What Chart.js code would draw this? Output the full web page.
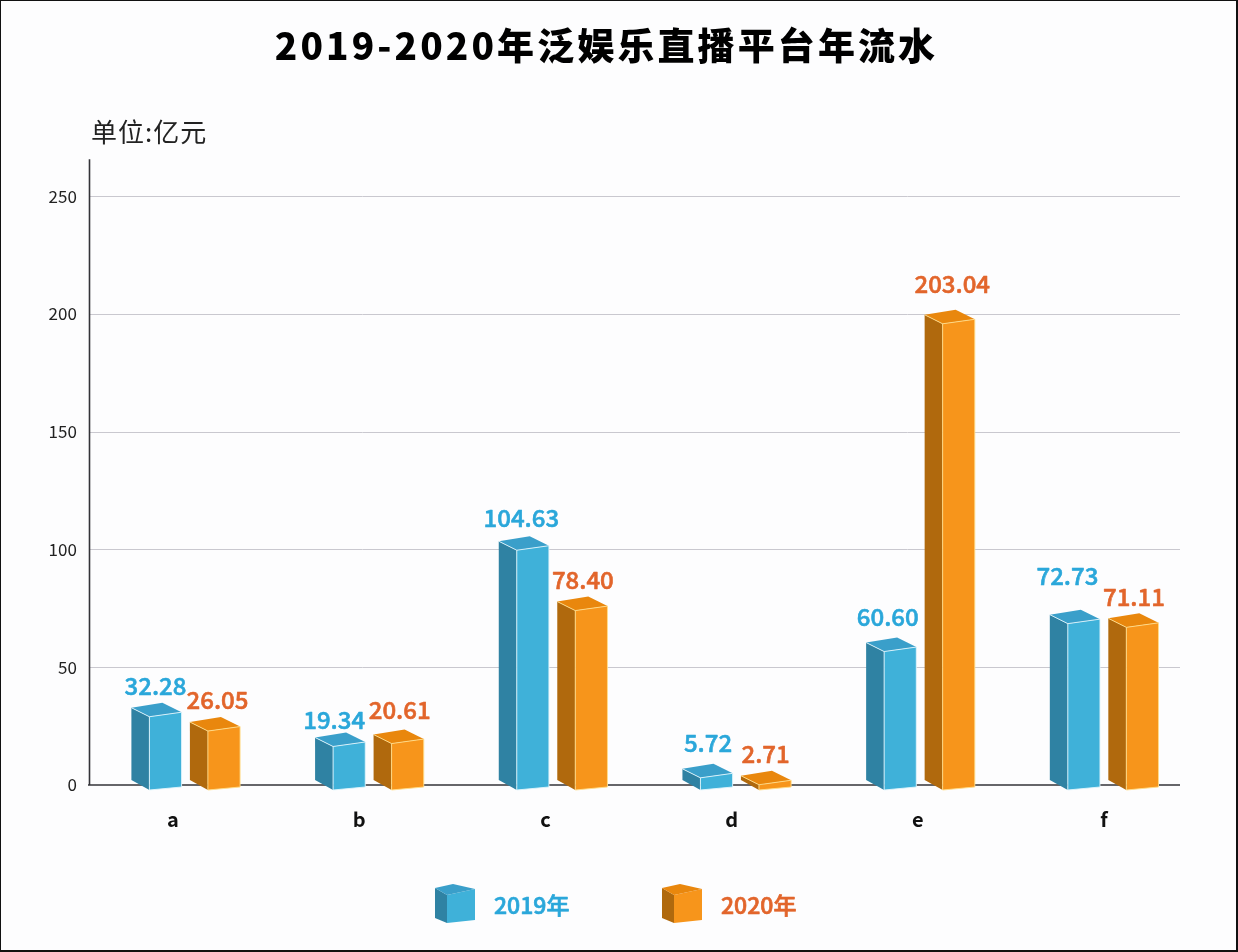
<!DOCTYPE html>
<html><head><meta charset="utf-8">
<style>html,body{margin:0;padding:0;background:#fff}canvas{display:block}</style>
<script src="https://cdn.jsdelivr.net/npm/chart.js@4"></script>
</head><body>
<canvas id="c" width="1238" height="952"></canvas>
<script>
const categories = ['a','b','c','d','e','f'];
const series2019 = [32.28,19.34,104.63,5.72,60.60,72.73];
const series2020 = [26.05,20.61,78.40,2.71,203.04,71.11];
const seriesNames = ['2019年','2020年'];
const yTicks = [0,50,100,150,200,250];
const titleText='2019-2020年泛娱乐直播平台年流水';
const unitText='单位:亿元';

const labelNudge = [
  {dx:[-10,-15,-11.5,-8.5,-12.5,-16.5], dy:[-23,-20,-21,-29,-25,-38]},
  {dx:[-6.5,-8,-8.5,-9.5,-6.5,-8.5],    dy:[-24,-27,-20,-25,-23,-21]}
];
const CJK = '"Noto Sans CJK SC","Noto Sans",sans-serif';
const faces = [
  {front:'#3fb1d9',side:'#2f82a3',top:'#3a9fca',edge:'rgba(225,245,252,.9)',text:'#2aa7da'},
  {front:'#f7951b',side:'#b0690d',top:'#e9870d',edge:'rgba(255,222,140,.9)',text:'#e2652b'}
];
function poly(ctx,pts,fill){ctx.beginPath();pts.forEach((p,i)=>i?ctx.lineTo(p[0],p[1]):ctx.moveTo(p[0],p[1]));ctx.closePath();ctx.fillStyle=fill;ctx.fill();}
function line(ctx,pts,color,w){ctx.beginPath();pts.forEach((p,i)=>i?ctx.lineTo(p[0],p[1]):ctx.moveTo(p[0],p[1]));ctx.strokeStyle=color;ctx.lineWidth=w;ctx.stroke();}
function heavyText(ctx,s,x,y,w){ctx.lineWidth=w;ctx.strokeStyle=ctx.fillStyle;ctx.lineJoin='round';ctx.strokeText(s,x,y);ctx.fillText(s,x,y);}
function box(ctx,L,R,frTop,frBot,f,g){
  const fl=[L,frTop+g.slant], fr=[R,frTop], bl=[L,frBot+g.slantB], br=[R,frBot];
  const sTop=[L-g.depth,frTop-g.rise], sBot=[L-g.depth,frBot-g.drop], back=[L+g.backX,frTop-g.back];
  poly(ctx,[sTop,fl,bl,sBot],f.side);
  poly(ctx,[fl,fr,br,bl],f.front);
  poly(ctx,[sTop,back,fr,fl],f.top);
  if(g.edges){
    line(ctx,[sTop,fl,fr],f.edge,1);
    line(ctx,[fl,bl,br,fr],f.edge,1);
  }
}
Chart.BarElement.prototype.draw=function(ctx){
  const h=this.base-this.y, inset=1.5+h*0.023;
  const f=faces.find(k=>k.front===this.options.backgroundColor)||faces[0];
  box(ctx,this.x-this.width/2,this.x+this.width/2,this.y+inset,this.base+2,f,
    {depth:18,rise:4.5,slant:4.5,slantB:3,drop:7,backX:13,back:9.5,edges:true});
};
const helpers={
  id:'helpers',
  beforeDraw(chart){
    const ctx=chart.ctx;
    ctx.save();ctx.fillStyle='#fdfdfe';ctx.fillRect(0,0,chart.width,chart.height);ctx.restore();
    chart.boxes.forEach(b=>{
      if(!b.options||(b.options.text!==titleText&&b.options.text!==unitText)||b.__wrapped)return;
      b.__wrapped=true;
      const isMain=b.options.text===titleText;
      const d=b.draw;
      b.draw=function(){
        ctx.save();
        ctx.translate(isMain?4:91,1);
        ctx.letterSpacing=isMain?'3.1px':'1px';
        d.apply(this,arguments);
        ctx.restore();
      };
    });
  },
  beforeDatasetsDraw(chart){
    const ctx=chart.ctx,y=chart.scales.y;
    y.ticks.forEach(t=>{
      if(t.value===0)return;
      const p=Math.round(y.getPixelForValue(t.value))+.5;
      line(ctx,[[90,p],[1180,p]],'#c9c8cf',1);
    });
    const b=y.getPixelForValue(0);
    line(ctx,[[88,b],[1180,b]],'#333338',1.6);
    line(ctx,[[89.5,y.top],[89.5,b]],'#333338',1.6);
  },
  afterDatasetsDraw(chart){
    const ctx=chart.ctx;
    ctx.save();ctx.textAlign='center';ctx.textBaseline='middle';
    ctx.font='500 24px '+CJK;
    chart.data.datasets.forEach((ds,di)=>{
      ctx.fillStyle=faces[di].text;
      chart.getDatasetMeta(di).data.forEach((el,i)=>{
        heavyText(ctx,ds.data[i].toFixed(2),el.x+labelNudge[di].dx[i],el.y+labelNudge[di].dy[i],0.6);
      });
    });
    const g={depth:12,rise:1,slant:6,slantB:3,drop:2,backX:6,back:5,edges:false};
    [[447,475,494],[674,702,721]].forEach((pos,i)=>{
      box(ctx,pos[0],pos[1],889,920,faces[i],g);
      ctx.textAlign='left';ctx.fillStyle=faces[i].text;ctx.font='500 23px '+CJK;
      heavyText(ctx,seriesNames[i],pos[2],905,0.7);
    });
    ctx.restore();
  },
  afterDraw(chart){
    const ctx=chart.ctx;ctx.save();ctx.strokeStyle='#111';ctx.lineWidth=2;
    ctx.strokeRect(0,0,chart.width-1,chart.height-1);ctx.restore();
  }
};
new Chart(document.getElementById('c'),{
  type:'bar',
  data:{labels:categories,datasets:[
    {label:seriesNames[0],data:series2019,backgroundColor:faces[0].front,categoryPercentage:0.637,barPercentage:0.55,clip:false},
    {label:seriesNames[1],data:series2020,backgroundColor:faces[1].front,categoryPercentage:0.637,barPercentage:0.55,clip:false}
  ]},
  plugins:[helpers],
  options:{
    responsive:false,animation:false,devicePixelRatio:1,
    layout:{padding:{left:0,right:33,top:0,bottom:99}},
    plugins:{
      legend:{display:false},tooltip:{enabled:false},
      title:{display:true,text:titleText,color:'#000',font:{family:CJK,size:37,weight:'900',lineHeight:1.2},padding:{top:23,bottom:48.6}},
      subtitle:{display:true,text:unitText,align:'start',color:'#222',font:{family:CJK,size:26,weight:'normal',lineHeight:1.2},padding:{top:0,bottom:12}}
    },
    scales:{
      x:{display:false,offset:true,grid:{display:false}},
      x2:{type:'linear',axis:'x',position:'bottom',min:-0.3765,max:5.5425,offset:false,
        grid:{display:false,drawTicks:false,offset:false},border:{display:false},
        afterBuildTicks(s){s.ticks=categories.map((_,i)=>({value:i}));},
        ticks:{autoSkip:false,maxRotation:0,padding:22,color:'#111',font:{family:CJK,size:20,weight:'bold'},callback:v=>categories[v]}},
      y:{min:0,max:265.7,afterBuildTicks(s){s.ticks=yTicks.map(v=>({value:v}));},
        afterFit(s){s.width=102.9;},
        grid:{display:false,drawTicks:false},border:{display:false},
        ticks:{padding:26,color:'#222',font:{family:CJK,size:17}}}
    }
  }
});
</script>
</body></html>
